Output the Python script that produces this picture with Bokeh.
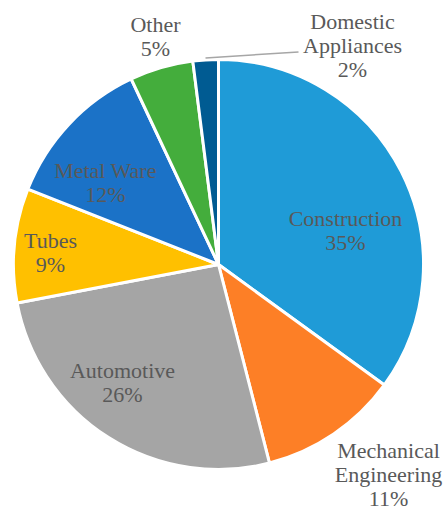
import math
from bokeh.plotting import figure
from bokeh.models import Range1d, ColumnDataSource
from bokeh.core.properties import value
from bokeh.embed import file_html
from bokeh.resources import INLINE

# ---- data ----
categories = ["Construction", "Mechanical\nEngineering", "Automotive", "Tubes",
              "Metal Ware", "Other", "Domestic\nAppliances"]
shares = [35, 11, 26, 9, 12, 5, 2]
colors = ["#1F9BD7", "#FD7F26", "#A5A5A5", "#FFC000", "#1B72C7", "#44AD3C", "#005B92"]

# ---- layout (pixels) ----
W, H = 445, 513
cx, cy, R = 218, 249, 205          # pie centre (data units = pixels)
# label block centre offsets from pie centre (dx right, dy down)
label_off = [(127, -34), (170, 210), (-96, 118), (-168, -12),
             (-113, -82), (-63, -228), (134, -219)]

total = float(sum(shares))
starts, ends = [], []
acc = 0.0
for s in shares:
    starts.append(math.pi / 2 - 2 * math.pi * acc / total)
    acc += s
    ends.append(math.pi / 2 - 2 * math.pi * acc / total)

labels = [f"{c}\n{s}%" for c, s in zip(categories, shares)]
lx = [cx + dx for dx, dy in label_off]
ly = [cy - dy for dx, dy in label_off]

src = ColumnDataSource(dict(start=starts, end=ends, color=colors))

p = figure(width=W, height=H, x_range=Range1d(0, W), y_range=Range1d(0, H),
           output_backend="svg", toolbar_location=None, min_border=0)
p.axis.visible = False
p.grid.visible = False
p.outline_line_color = None
p.background_fill_color = "white"

p.wedge(x=cx, y=cy, radius=R, start_angle="start", end_angle="end",
        direction="clock", fill_color="color", line_color="white",
        line_width=3, source=src)

# leader line for the small "Domestic Appliances" slice
mid = (starts[-1] + ends[-1]) / 2
x0 = cx + (R + 2) * math.cos(mid)
y0 = cy + (R + 2) * math.sin(mid)
p.line([x0, x0 + 93], [y0, y0 + 6], line_color="#A6A6A6", line_width=1.5)

p.text(x=lx, y=ly, text=labels, text_font=value("Liberation Serif"),
       text_font_size="22px", text_color="#595959", text_align="center",
       text_baseline="middle", text_line_height=0.97)

open("out.html", "w").write(file_html(p, INLINE))
